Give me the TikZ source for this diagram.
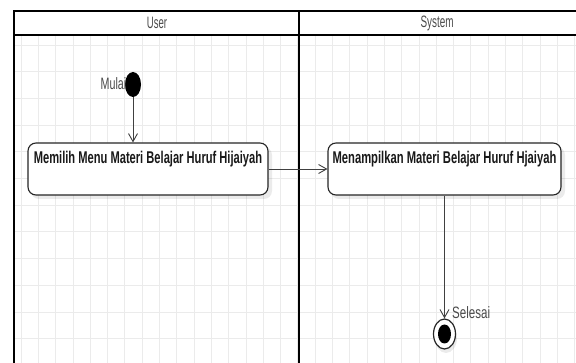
\documentclass[tikz,border=0pt]{standalone}
\usepackage{fontspec}
\setmainfont{Liberation Sans}
\usetikzlibrary{arrows.meta,shapes.geometric}
\newcommand\narrowtext[2][0.65]{\scalebox{#1}[1]{#2}}
\definecolor{gridline}{HTML}{EBEBEB}
\definecolor{labelgray}{HTML}{4A4A4A}
\tikzset{
  lane/.style={line width=1.7pt, draw=black},
  gridstyle/.style={draw=gridline, line width=0.8pt},
  actbox/.style={draw=black!85, line width=1.1pt, rounded corners=8pt, fill=white,
    minimum height=52pt, inner sep=0pt},
  acttext/.style={font=\fontsize{17}{19}\selectfont\bfseries, text=black!90, inner sep=0pt},
  lanetext/.style={font=\fontsize{16.5}{18}\selectfont, text=labelgray, inner sep=0pt},
  flow/.style={draw=black!75, line width=0.9pt, -{Straight Barb[length=8pt,width=9pt]}},
  startdot/.style={ellipse, fill=black, minimum width=16pt, minimum height=25pt, inner sep=0pt},
  endring/.style={ellipse, draw=black!85, fill=white, line width=1.2pt, minimum width=22pt, minimum height=30pt, inner sep=0pt},
  enddot/.style={ellipse, fill=black, minimum width=13pt, minimum height=19pt, inner sep=0pt},
  shade/.style={fill=black, opacity=0.08, rounded corners=8pt}
}
\begin{document}
\begin{tikzpicture}[x=1pt,y=-1pt]
\useasboundingbox (0,0) rectangle (576,363);
\fill[white] (0,0) rectangle (576,363);
% background grid of the lanes
\foreach \gx in {21.0,38.3,...,576} \draw[gridstyle] (\gx,35) -- (\gx,363);
\foreach \gy in {45,71.7,...,363} \draw[gridstyle] (14,\gy) -- (576,\gy);
% swimlane frame
\draw[lane] (14,363) -- (14,11) -- (576,11);
\draw[lane] (14,35) -- (576,35);
\draw[lane] (299,11) -- (299,363);
\node[lanetext] (hUser) at (157,23) {\narrowtext[0.58]{User}};
\node[lanetext] (hSystem) at (437,23) {\narrowtext[0.6]{System}};
% soft shadows under the activities
\fill[shade] (31,147) rectangle (272,199);
\fill[shade] (331,147) rectangle (565,199);
\fill[black, opacity=0.08] (446,338) ellipse (11pt and 15pt);
% activities
\node[actbox, minimum width=240pt] (b1) at (148,169) {};
\node[acttext] (t1) at (148,159) {\narrowtext[0.655]{Memilih Menu Materi Belajar Huruf Hijaiyah}};
\node[actbox, minimum width=233pt] (b2) at (444.5,169) {};
\node[acttext] (t2) at (444.5,159) {\narrowtext[0.66]{Menampilkan Materi Belajar Huruf Hjaiyah}};
% start and end
\node[startdot] (start) at (133,84.5) {};
\node[lanetext, anchor=east] (lstart) at (126.5,84) {\narrowtext{Mulai}};
\node[endring] (stop) at (444.5,334) {};
\node[enddot] (stopdot) at (stop.center) {};
\node[lanetext, anchor=west] (lstop) at (452,313) {\narrowtext[0.7]{Selesai}};
% control flows
\draw[flow] (start.south) -- (start.south |- b1.north);
\draw[flow] (b1.east) -- (b2.west);
\draw[flow] (b2.south) -- (stop.north);
\end{tikzpicture}
\end{document}
